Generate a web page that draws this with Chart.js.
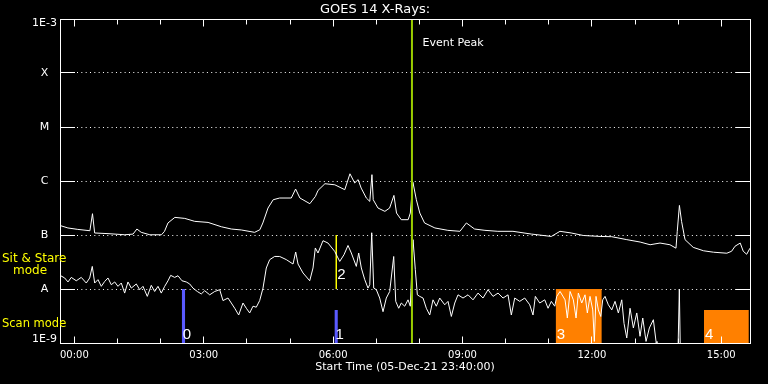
<!DOCTYPE html>
<html><head><meta charset="utf-8">
<script src="https://cdn.jsdelivr.net/npm/chart.js@4.4.1/dist/chart.umd.min.js"></script>
<style>html,body{margin:0;padding:0;background:#000;}canvas{display:block;}</style>
</head><body>
<canvas id="c" width="768" height="384"></canvas>
<script>
const chartTitle = 'GOES 14 X-Rays:';
const xAxisTitle = 'Start Time (05-Dec-21 23:40:00)';
const xMinHours = -1/3, xMaxHours = 15 + 2/3;
const xTickHours = [0,1,2,3,4,5,6,7,8,9,10,11,12,13,14,15];
const yTickValues = [1e-9,1e-8,1e-7,1e-6,1e-5,1e-4,1e-3];
const yTickLabels = ['1E-9','A','B','C','M','X','1E-3'];

// long channel (upper curve): hours after 00:00, flux W/m^2
const longTime = [
 -0.333,-0.15,0.08,0.36,0.42,0.47,0.78,1.17,1.36,1.45,
 1.55,1.75,2.02,2.09,2.17,2.33,2.56,2.79,3.10,3.41,
 3.64,3.87,4.18,4.30,4.37,4.49,4.61,4.76,5.03,5.13,
 5.23,5.46,5.59,5.65,5.81,6.04,6.27,6.39,6.50,6.58,
 6.65,6.77,6.85,6.90,6.93,7.04,7.20,7.31,7.41,7.47,
 7.58,7.74,7.79,7.85,7.93,8.01,8.12,8.36,8.66,8.94,
 9.09,9.28,9.52,9.82,10.17,10.60,11.06,11.26,11.52,11.80,
 12.19,12.46,12.81,13.12,13.35,13.58,13.81,13.95,13.98,14.03,
 14.08,14.16,14.35,14.59,14.82,15.13,15.24,15.32,15.44,15.51,
 15.59,15.667];
const longFlux = [
 1.5e-7,1.35e-7,1.27e-7,1.2e-7,2.48e-7,1.09e-7,1.06e-7,1.01e-7,1.04e-7,1.29e-7,
 1.12e-7,1.01e-7,1.01e-7,1.17e-7,1.67e-7,2.12e-7,2.03e-7,1.79e-7,1.71e-7,1.42e-7,
 1.29e-7,1.24e-7,1.12e-7,1.25e-7,1.67e-7,3.16e-7,4.5e-7,4.84e-7,4.84e-7,7.1e-7,
 4.84e-7,3.8e-7,5.19e-7,6.7e-7,8.9e-7,8.5e-7,6.9e-7,1.36e-6,9.2e-7,1.06e-6,
 7.4e-7,4.84e-7,4.19e-7,1.31e-6,4.5e-7,3.16e-7,2.74e-7,3.16e-7,5.41e-7,2.55e-7,
 1.92e-7,1.92e-7,2.55e-7,9.5e-7,4.5e-7,2.55e-7,1.67e-7,1.35e-7,1.22e-7,1.17e-7,
 1.67e-7,1.29e-7,1.22e-7,1.17e-7,1.17e-7,1.04e-7,9.4e-8,1.17e-7,1.09e-7,9.8e-8,
 9.4e-8,9.3e-8,8.2e-8,7.4e-8,6.6e-8,7.1e-8,6.6e-8,5.7e-8,1.17e-7,3.53e-7,
 1.79e-7,8.2e-8,5.9e-8,5.1e-8,4.8e-8,4.6e-8,5.0e-8,6.2e-8,7.1e-8,5.0e-8,
 4.4e-8,5.7e-8];

// short channel (lower curve)
const shortTime = [
 -0.333,-0.225,-0.148,-0.072,0.044,0.16,0.276,0.355,0.415,0.471,
 0.547,0.624,0.703,0.779,0.856,0.935,1.011,1.088,1.166,1.243,
 1.32,1.436,1.514,1.591,1.691,1.783,1.862,1.939,2.015,2.094,
 2.171,2.233,2.326,2.403,2.495,2.595,2.674,2.75,2.85,2.943,
 3.022,3.138,3.254,3.37,3.446,3.562,3.639,3.718,3.81,3.91,
 3.987,4.065,4.142,4.218,4.297,4.374,4.45,4.529,4.645,4.761,
 4.914,5.07,5.132,5.186,5.302,5.457,5.534,5.587,5.649,5.765,
 5.881,6.037,6.153,6.252,6.345,6.422,6.538,6.593,6.654,6.733,
 6.809,6.849,6.895,6.941,7.002,7.08,7.157,7.233,7.312,7.405,
 7.452,7.521,7.581,7.66,7.737,7.79,7.853,7.906,7.953,8.008,
 8.085,8.161,8.24,8.316,8.393,8.472,8.588,8.664,8.741,8.82,
 8.896,9.012,9.128,9.244,9.36,9.476,9.592,9.708,9.824,9.94,
 10.056,10.132,10.211,10.327,10.443,10.559,10.635,10.689,10.791,10.907,
 10.984,11.06,11.139,11.186,11.262,11.378,11.431,11.494,11.57,11.633,
 11.686,11.765,11.841,11.895,11.957,12.02,12.057,12.096,12.15,12.206,
 12.252,12.305,12.382,12.461,12.537,12.614,12.693,12.746,12.809,12.885,
 12.962,13.041,13.117,13.18,13.256,13.333,13.426,13.488,13.51,13.975,
 14.028,14.068,15.667];
const shortFlux = [
 1.79e-8,1.6e-8,1.35e-8,1.64e-8,1.42e-8,1.64e-8,1.29e-8,1.6e-8,2.62e-8,1.29e-8,
 1.49e-8,1.12e-8,1.38e-8,1.6e-8,1.2e-8,1.35e-8,1.12e-8,1.29e-8,8.4e-9,1.35e-8,
 1.04e-8,1.24e-8,9.7e-9,1.12e-8,7.3e-9,1.17e-8,9.0e-9,1.12e-8,8.4e-9,1.12e-8,
 1.42e-8,1.79e-8,1.64e-8,1.76e-8,1.42e-8,1.35e-8,1.24e-8,1.04e-8,9.0e-9,8.1e-9,
 9.3e-9,7.8e-9,9.0e-9,9.7e-9,6.1e-9,6.8e-9,5.5e-9,4.4e-9,3.3e-9,5.5e-9,
 4.4e-9,3.6e-9,4.8e-9,4.6e-9,6.1e-9,1.04e-8,2.45e-8,3.49e-8,4.01e-8,4.0e-8,
 3.5e-8,2.9e-8,4.84e-8,2.9e-8,1.98e-8,1.42e-8,2.45e-8,5.75e-8,4.64e-8,7.84e-8,
 7.1e-8,4.97e-8,3.24e-8,4.31e-8,6.4e-8,4.64e-8,2.62e-8,4.64e-8,2.45e-8,1.49e-8,
 1.04e-8,1.2e-8,1.1e-7,1.04e-8,9.7e-9,6.8e-9,3.8e-9,6.8e-9,9.0e-9,4.0e-8,
 5.9e-9,4.4e-9,5.5e-9,4.8e-9,6.3e-9,4.8e-9,8.2e-8,2.28e-8,7.8e-9,7.3e-9,
 6.8e-9,4.4e-9,3.3e-9,6.3e-9,4.8e-9,6.8e-9,5.1e-9,5.9e-9,3.1e-9,5.5e-9,
 7.8e-9,6.8e-9,7.8e-9,6.3e-9,8.4e-9,6.8e-9,9.7e-9,7.3e-9,8.4e-9,6.8e-9,
 7.8e-9,3.3e-9,6.8e-9,5.9e-9,6.8e-9,5.1e-9,3.3e-9,7.3e-9,5.5e-9,6.3e-9,
 4.4e-9,5.9e-9,4.8e-9,7.3e-9,9.0e-9,6.3e-9,2.9e-9,9.0e-9,6.3e-9,2.9e-9,
 8.4e-9,5.5e-9,7.8e-9,3.6e-9,7.3e-9,4.1e-9,1.07e-9,7.3e-9,4.1e-9,3.1e-9,
 6.3e-9,7.3e-9,5.1e-9,4.1e-9,5.9e-9,3.6e-9,6.3e-9,2.3e-9,1.24e-9,4.4e-9,
 1.9e-9,3.6e-9,1.33e-9,2.9e-9,1.07e-9,1.9e-9,2.7e-9,1.07e-9,1e-10,1e-10,
 1.0e-8,1e-10,1e-10];

const eventPeakHour = 7.828;
const eventLabel = 'Event Peak';

// observation marks
const markLabels = ['0','1','2','3','4'];
const markStart  = [2.49, 6.03, 6.073, 11.16, 14.60];
const markEnd    = [2.57, 6.11, 6.073, 12.23, 15.64];
const markLow    = [1e-9, 1e-9, 1e-8, 1e-9, 1e-9];
const markHigh   = [1e-8, 4.1e-9, 1e-7, 1e-8, 4.1e-9];
const markKind   = ['scan','scan','stare','scanblock','scanblock'];

const kindColor = {scan:'#5a5aff', stare:'#ffff00', scanblock:'#ff8000'};
const FONT = 'DejaVu Sans';

const toPts = (t, f) => t.map((v, i) => ({x: v, y: f[i]}));

const datasets = [
  {label:'event', data:[{x:eventPeakHour,y:1e-9},{x:eventPeakHour,y:1e-3}], borderColor:'#9acd00', borderWidth:2, fill:false, order:0},
  {label:'long', data:toPts(longTime,longFlux), borderColor:'#ffffff', borderWidth:1, fill:false, order:1},
  {label:'short', data:toPts(shortTime,shortFlux), borderColor:'#ffffff', borderWidth:1, fill:false, order:2},
];
markLabels.forEach((lab, i) => {
  const c = kindColor[markKind[i]];
  if (markStart[i] === markEnd[i]) {
    datasets.push({label:'mark'+lab, data:[{x:markStart[i],y:markLow[i]},{x:markStart[i],y:markHigh[i]}],
      borderColor:c, borderWidth:1.5, fill:false, order:3});
  } else {
    datasets.push({label:'mark'+lab, data:[{x:markStart[i],y:markLow[i]},{x:markStart[i],y:markHigh[i]},{x:markEnd[i],y:markHigh[i]},{x:markEnd[i],y:markLow[i]}],
      borderColor:'rgba(0,0,0,0)', borderWidth:0, backgroundColor:c, fill:'start', order:3});
  }
});

const decor = {
  id:'decor',
  beforeDatasetsDraw(chart) {
    const {ctx, chartArea:a, scales:{y}} = chart;
    ctx.save();
    ctx.strokeStyle = '#fff'; ctx.lineWidth = 1;
    y.ticks.forEach(t => {
      if (t.value <= yTickValues[0] || t.value >= yTickValues[yTickValues.length-1]) return;
      const py = Math.floor(y.getPixelForValue(t.value)) + 0.5;
      ctx.setLineDash([1, 3.33]);
      ctx.beginPath(); ctx.moveTo(a.left + 17, py); ctx.lineTo(a.right - 14, py); ctx.stroke();
      ctx.setLineDash([]);
      ctx.beginPath();
      ctx.moveTo(a.left, py); ctx.lineTo(a.left + 15, py);
      ctx.moveTo(a.right - 14, py); ctx.lineTo(a.right, py);
      ctx.stroke();
    });
    ctx.restore();
  },
  afterDatasetsDraw(chart) {
    const {ctx, chartArea:a, scales:{x, y}} = chart;
    ctx.save();
    ctx.strokeStyle = '#fff'; ctx.lineWidth = 1;
    const L = Math.floor(a.left)+0.5, R = Math.floor(a.right)+0.5, T = Math.floor(a.top)+0.5, B = Math.floor(a.bottom)+0.5;
    ctx.strokeRect(L, T, R-L, B-T);
    ctx.beginPath();
    x.ticks.forEach(t => {
      const px = Math.floor(x.getPixelForValue(t.value)) + 0.5;
      const len = t.value % 3 === 0 ? 7 : 5;
      ctx.moveTo(px, T); ctx.lineTo(px, T + len);
      ctx.moveTo(px, B); ctx.lineTo(px, B - len);
    });
    ctx.stroke();
    // event label
    ctx.fillStyle = '#fff';
    ctx.font = '11px "' + FONT + '"';
    ctx.textAlign = 'left'; ctx.textBaseline = 'middle';
    ctx.fillText(eventLabel, x.getPixelForValue(eventPeakHour) + 10.5, 43);
    // mark numbers
    const lift = [4.5, 4.5, 10.5, 4.5, 4.5];
    ctx.font = '15px "Liberation Sans"';
    ctx.textBaseline = 'alphabetic';
    markLabels.forEach((lab, i) => {
      ctx.fillText(lab, x.getPixelForValue(markStart[i]) + 1, y.getPixelForValue(markLow[i]) - lift[i]);
    });
    // mode labels
    ctx.fillStyle = '#ffff00';
    ctx.font = '12px "' + FONT + '"';
    ctx.textBaseline = 'middle';
    ctx.fillText('Sit & Stare', 2, 259);
    ctx.fillText('mode', 13, 271);
    ctx.font = '11.5px "' + FONT + '"';
    ctx.fillText('Scan mode', 2, 324);
    ctx.restore();
  }
};

new Chart(document.getElementById('c'), {
  type:'line',
  data:{datasets},
  options:{
    responsive:false, animation:false, devicePixelRatio:1,
    layout:{padding:{left:0, right:18, top:0, bottom:0}},
    elements:{point:{radius:0}, line:{tension:0}},
    plugins:{
      legend:{display:false}, tooltip:{enabled:false},
      title:{display:true, text:chartTitle, color:'#fff', font:{family:FONT, size:13, weight:'normal'}, padding:{top:1.5, bottom:1.9}}
    },
    scales:{
      x:{type:'linear', min:xMinHours, max:xMaxHours,
        grid:{display:false, drawTicks:false}, border:{display:false},
        afterBuildTicks:s => { s.ticks = xTickHours.map(v => ({value:v})); },
        afterFit:s => { s.height = 41; },
        ticks:{autoSkip:false, maxRotation:0, padding:6, color:'#fff', font:{family:FONT, size:10},
          callback:v => (v % 3 === 0) ? (String(v).padStart(2,'0') + ':00') : ''},
        title:{display:true, text:xAxisTitle, color:'#fff', font:{family:FONT, size:11}, padding:{top:0, bottom:10}}
      },
      y:{type:'logarithmic', min:1e-9, max:1e-3,
        grid:{display:false, drawTicks:false}, border:{display:false},
        afterBuildTicks:s => { s.ticks = yTickValues.map(v => ({value:v})); },
        afterFit:s => { s.width = 60; },
        ticks:{autoSkip:false, crossAlign:'center', padding:3, color:'#fff', font:{family:FONT, size:11, lineHeight:0.75},
          callback:(v, i) => {
            const k = yTickValues.indexOf(v);
            const lab = yTickLabels[k];
            if (k === 0) return [lab, ''];
            if (k === yTickValues.length - 1) return ['', lab];
            return lab;
          }}
      }
    }
  },
  plugins:[decor]
});
</script>
</body></html>
